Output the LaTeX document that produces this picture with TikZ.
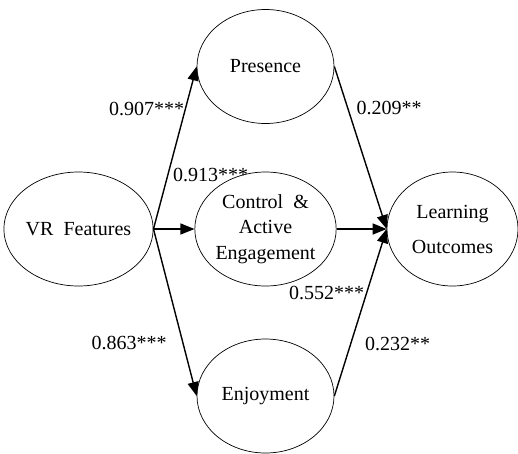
\documentclass[tikz,border=0pt]{standalone}
\usepackage{fontspec}
\setmainfont{Liberation Serif}
\usetikzlibrary{shapes.geometric,arrows.meta}
\begin{document}
\begin{tikzpicture}[x=1pt,y=-1pt,
  latent/.style={ellipse, draw, line width=0.7pt, minimum width=137pt, minimum height=114pt,
    inner sep=0pt, align=center, font=\fontsize{20}{25.5}\selectfont},
  conn/.style={line width=1.4pt, -{Triangle[length=14pt,width=11pt]}},
  coef/.style={font=\fontsize{20}{24}\selectfont, inner sep=0pt, anchor=base}]
\useasboundingbox (0,0) rectangle (518,453);
\node[latent] (vr) at (78.5,229) {VR\ \ Features};
\node[latent] (pres) at (265.5,66.5) {Presence};
\node[latent] (ctrl) at (265.5,229) {Control\ \ \&\\Active\\Engagement};
\node[latent] (enj) at (265.5,396) {Enjoyment};
\node[latent, minimum width=131pt, font=\fontsize{20}{35}\selectfont] (lo) at (452.5,229) {Learning\\Outcomes};

\draw[conn] (vr.east) -- (pres.west);
\draw[conn] (vr.east) -- (ctrl.west);
\draw[conn] (vr.east) -- (enj.west);
\draw[conn] (pres.east) -- (lo.west);
\draw[conn] (ctrl.east) -- (lo.west);
\draw[conn] (enj.east) -- (lo.west);

\node[coef] (c1) at (146.5,115.5) {0.907***};
\node[coef] (c2) at (210.5,181.5) {0.913***};
\node[coef] (c3) at (129,349.5) {0.863***};
\node[coef] (c4) at (389,114.5) {0.209**};
\node[coef] (c5) at (326.5,299.5) {0.552***};
\node[coef] (c6) at (397.5,350.5) {0.232**};
\end{tikzpicture}
\end{document}
